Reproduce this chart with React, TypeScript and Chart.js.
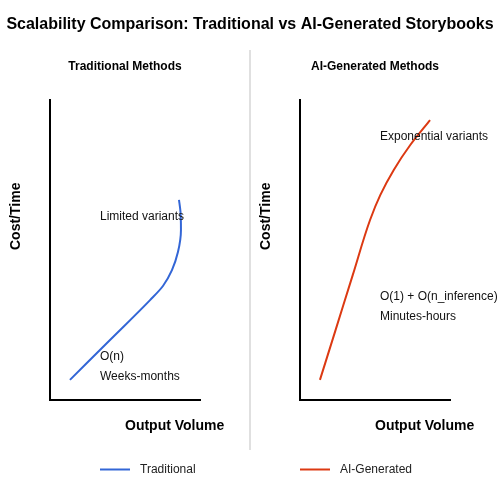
import React, { useEffect, useRef } from "react";
import { Chart, registerables } from "chart.js";

Chart.register(...registerables);

const TITLE = "Scalability Comparison: Traditional vs AI-Generated Storybooks";
const PANEL_TITLES = ["Traditional Methods", "AI-Generated Methods"];
const X_AXIS_TITLE = "Output Volume";
const Y_AXIS_TITLE = "Cost/Time";
const SERIES_NAMES = ["Traditional", "AI-Generated"];
const SERIES_COLORS = ["#3366d6", "#dc3912"];

// Output volume (0-10) vs cost/time (0-10)
const TRADITIONAL_X = [1.33, 4.0, 6.67, 7.53, 8.13, 8.53, 8.73, 8.7, 8.6];
const TRADITIONAL_Y = [0.67, 2.0, 3.33, 3.8, 4.33, 4.93, 5.67, 6.27, 6.67];
const AI_X = [1.33, 2.37, 3.52, 4.67, 5.35, 6.25, 7.35, 8.67];
const AI_Y = [0.67, 2.33, 4.17, 6.0, 6.83, 7.67, 8.5, 9.33];

const TRADITIONAL_NOTES = ["Limited variants", "O(n)", "Weeks-months"];
const AI_NOTES = ["Exponential variants", "O(1) + O(n_inference)", "Minutes-hours"];

const FONT = '"Liberation Sans", Arial, sans-serif';

type PanelCfg = {
  index: number;
  xs: number[];
  ys: number[];
  notes: string[];
  notePos: [number, number][];
  originX: number;
  drawGlobal: boolean;
};

function makePlugin(cfg: PanelCfg) {
  return {
    id: "panelText" + cfg.index,
    afterDraw(chart: Chart) {
      const ctx = chart.ctx;
      const ox = cfg.originX;
      ctx.save();
      ctx.fillStyle = "#000";
      ctx.textBaseline = "middle";
      // panel title
      ctx.font = `bold 12px ${FONT}`;
      ctx.textAlign = "center";
      ctx.fillText(PANEL_TITLES[cfg.index], ox + 125, 67);
      // x axis title
      ctx.font = `bold 14px ${FONT}`;
      ctx.textAlign = "left";
      ctx.fillText(X_AXIS_TITLE, ox + 125, 426);
      // y axis title
      ctx.save();
      ctx.translate(ox + 16, 250);
      ctx.rotate(-Math.PI / 2);
      ctx.textAlign = "left";
      ctx.fillText(Y_AXIS_TITLE, 0, 0);
      ctx.restore();
      // notes
      ctx.font = `12px ${FONT}`;
      ctx.fillStyle = "#111";
      ctx.textAlign = "left";
      cfg.notes.forEach((t, i) => {
        ctx.fillText(t, cfg.notePos[i][0], cfg.notePos[i][1]);
      });
      // legend entry
      const lx = 100 + cfg.index * 200;
      ctx.strokeStyle = SERIES_COLORS[cfg.index];
      ctx.lineWidth = 2;
      ctx.beginPath();
      ctx.moveTo(lx, 469.5);
      ctx.lineTo(lx + 30, 469.5);
      ctx.stroke();
      ctx.fillStyle = "#222";
      ctx.fillText(SERIES_NAMES[cfg.index], lx + 40, 469.5);

      if (cfg.drawGlobal) {
        ctx.fillStyle = "#000";
        ctx.font = `bold 16px ${FONT}`;
        ctx.textAlign = "center";
        ctx.fillText(TITLE, 250, 25);
        ctx.fillStyle = "#e0e0e0";
        ctx.fillRect(249, 50, 2, 400);
      }
      ctx.restore();
    },
  };
}

function Panel({ cfg }: { cfg: PanelCfg }) {
  const ref = useRef<HTMLCanvasElement | null>(null);
  useEffect(() => {
    if (!ref.current) return;
    const axis = {
      type: "linear" as const,
      min: 0,
      max: 10,
      display: true,
      grid: { display: false, drawTicks: false },
      ticks: { display: false },
      border: { display: true, color: "#000", width: 2 },
      title: { display: false },
    };
    const chart = new Chart(ref.current, {
      type: "line",
      data: {
        datasets: [
          {
            label: SERIES_NAMES[cfg.index],
            data: cfg.xs.map((x, i) => ({ x, y: cfg.ys[i] })),
            borderColor: SERIES_COLORS[cfg.index],
            borderWidth: 2,
            pointRadius: 0,
            cubicInterpolationMode: "monotone",
            fill: false,
            clip: false,
          },
        ],
      },
      options: {
        animation: false,
        responsive: false,
        events: [],
        indexAxis: "y",
        layout: {
          padding: { left: cfg.originX + 50, right: 250 - cfg.originX + 50, top: 100, bottom: 100 },
        },
        plugins: {
          legend: { display: false },
          title: { display: false },
          tooltip: { enabled: false },
        },
        scales: { x: { ...axis, position: "bottom" }, y: { ...axis, position: "left" } },
      },
      plugins: [makePlugin(cfg)],
    });
    return () => chart.destroy();
  }, []);
  return (
    <canvas
      ref={ref}
      width={500}
      height={500}
      style={{ position: "absolute", left: 0, top: 0, width: 500, height: 500 }}
    />
  );
}

export default function App() {
  const left: PanelCfg = {
    index: 0,
    xs: TRADITIONAL_X,
    ys: TRADITIONAL_Y,
    notes: TRADITIONAL_NOTES,
    notePos: [
      [100, 217],
      [100, 357],
      [100, 377],
    ],
    originX: 0,
    drawGlobal: true,
  };
  const right: PanelCfg = {
    index: 1,
    xs: AI_X,
    ys: AI_Y,
    notes: AI_NOTES,
    notePos: [
      [380, 137],
      [380, 297],
      [380, 317],
    ],
    originX: 250,
    drawGlobal: false,
  };
  return (
    <div style={{ position: "absolute", left: 0, top: 0, width: 500, height: 500, background: "#fff" }}>
      <Panel cfg={left} />
      <Panel cfg={right} />
    </div>
  );
}
